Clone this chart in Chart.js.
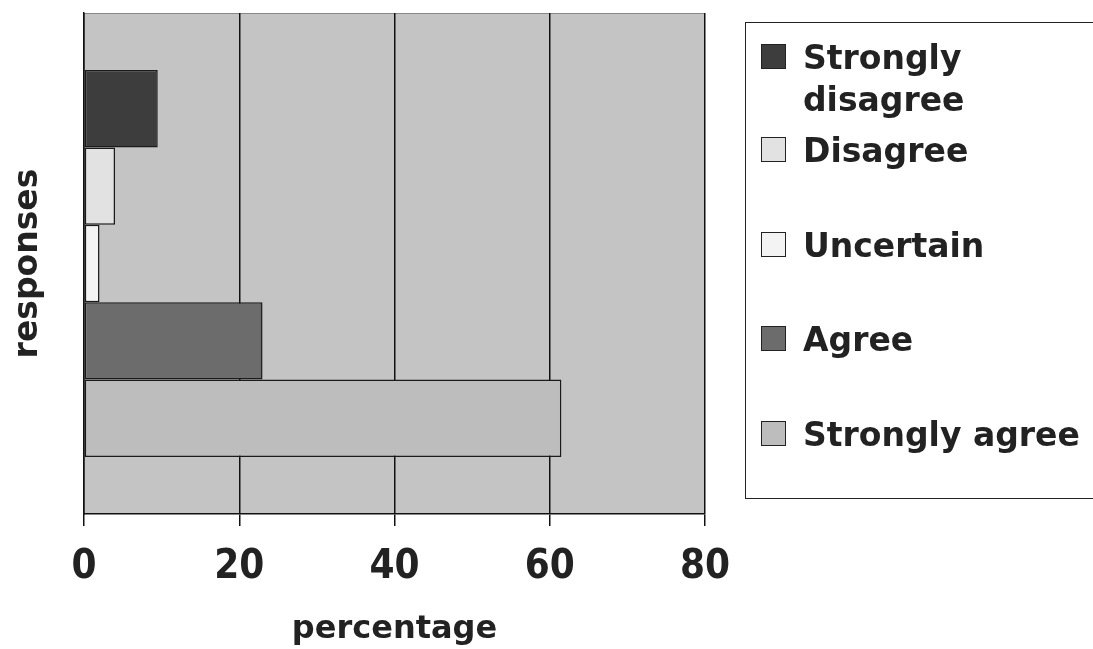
<!DOCTYPE html>
<html>
<head>
<meta charset="utf-8">
<script src="https://cdn.jsdelivr.net/npm/chart.js@4.4.1/dist/chart.umd.min.js"></script>
<style>
  html, body { margin: 0; padding: 0; background: #fff; }
  #wrap { position: relative; width: 1093px; height: 649px; overflow: hidden; }
  #chart { position: absolute; left: 0; top: 0; }
  #legend {
    position: absolute; left: 745px; top: 22px; width: 370px; height: 477px;
    border: 1.5px solid #222; box-sizing: border-box;
  }
  .item { position: absolute; left: 803px; font: bold 33px 'DejaVu Sans', sans-serif; line-height: 42px; color: #222; white-space: nowrap; }
  .swatch { position: absolute; left: 761px; width: 25px; height: 25px; border: 1.5px solid #222; box-sizing: border-box; }
</style>
</head>
<body>
<div id="wrap">
  <canvas id="chart" width="1093" height="649"></canvas>
  <div id="legend"></div>
</div>
<script>
const categories = [''];
const seriesNames = ['Strongly\ndisagree', 'Disagree', 'Uncertain', 'Agree', 'Strongly agree'];
const seriesValues = [[9.5], [4], [2], [23], [61.5]];
const seriesColors = ['#3d3d3d', '#e2e2e2', '#f3f3f3', '#6c6c6c', '#bdbdbd'];
const xTicks = [0, 20, 40, 60, 80];

const plotBackground = {
  id: 'plotBackground',
  beforeDraw(chart) {
    const { ctx, chartArea: a } = chart;
    ctx.save();
    ctx.fillStyle = '#c4c4c4';
    ctx.fillRect(a.left, a.top, a.right - a.left, a.bottom - a.top);
    ctx.strokeStyle = '#888';
    ctx.lineWidth = 1;
    ctx.beginPath();
    ctx.moveTo(a.left, a.top + 0.5);
    ctx.lineTo(a.right, a.top + 0.5);
    ctx.stroke();
    ctx.restore();
  }
};

new Chart(document.getElementById('chart'), {
  type: 'bar',
  data: {
    labels: categories,
    datasets: seriesNames.map((name, i) => ({
      label: name,
      data: seriesValues[i],
      backgroundColor: seriesColors[i],
      borderColor: '#1a1a1a',
      borderWidth: 1.5,
      borderSkipped: false,
      barPercentage: 1,
      categoryPercentage: 0.772
    }))
  },
  options: {
    indexAxis: 'y',
    responsive: false,
    animation: false,
    devicePixelRatio: 1,
    layout: { padding: { top: 13, right: 388, left: 0, bottom: 0 } },
    plugins: { legend: { display: false }, tooltip: { enabled: false } },
    scales: {
      x: {
        type: 'linear',
        min: 0,
        max: 80,
        afterBuildTicks(scale) { scale.ticks = xTicks.map((v) => ({ value: v })); },
        afterFit(scale) { scale.height = 135; },
        ticks: {
          color: '#222',
          padding: 18,
          font: { family: "'Liberation Sans Narrow', 'DejaVu Sans Condensed', sans-serif", size: 40, weight: 'bold' }
        },
        grid: { color: '#111', lineWidth: 1.5, tickLength: 12, tickColor: '#111' },
        border: { display: true, color: '#111', width: 1.5 },
        title: {
          display: true,
          text: 'percentage',
          color: '#222',
          padding: { top: 0, bottom: 0 },
          font: { family: "'DejaVu Sans', sans-serif", size: 32, weight: 'bold' }
        }
      },
      y: {
        afterFit(scale) { scale.width = 84; },
        ticks: { display: false },
        grid: { display: false },
        border: { display: true, color: '#111', width: 1.5 },
        title: {
          display: true,
          text: 'responses',
          color: '#222',
          padding: { top: 9, bottom: 0 },
          font: { family: "'DejaVu Sans', sans-serif", size: 33, weight: 'bold' }
        }
      }
    }
  },
  plugins: [plotBackground]
});

// legend drawn as html text beside the plot
const wrap = document.getElementById('wrap');
seriesNames.forEach((name, i) => {
  const capTop = i === 0 ? 45 : 138 + (i - 1) * 94.5;
  const sw = document.createElement('div');
  sw.className = 'swatch';
  sw.style.top = (capTop - 1) + 'px';
  sw.style.background = seriesColors[i];
  wrap.appendChild(sw);
  const item = document.createElement('div');
  item.className = 'item';
  item.style.top = (capTop - 8) + 'px';
  name.split('\n').forEach((line, j) => {
    if (j) item.appendChild(document.createElement('br'));
    item.appendChild(document.createTextNode(line));
  });
  wrap.appendChild(item);
});
</script>
</body>
</html>
